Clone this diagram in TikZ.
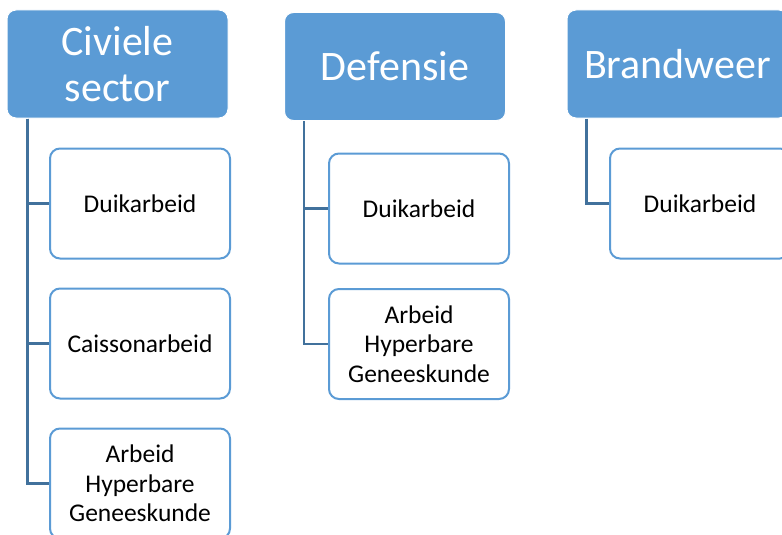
\documentclass[tikz,border=0pt]{standalone}
\usepackage{fontspec}
\setmainfont{Carlito}
\definecolor{hdblue}{HTML}{5B9BD5}
\definecolor{lnblue}{HTML}{41719C}

\begin{document}
\begin{tikzpicture}[x=1pt,y=-1pt,
  head/.style={fill=hdblue,draw=white,line width=1pt,rounded corners=9pt,
    minimum width=221pt,minimum height=108pt,inner sep=0pt,align=center,
    text=white,font=\fontsize{42}{46}\selectfont},
  sub/.style={fill=white,draw=hdblue,line width=2pt,rounded corners=10pt,
    minimum width=180pt,minimum height=110pt,inner sep=0pt,align=center,
    font=\fontsize{25.5}{29.5}\selectfont},
  conn/.style={draw=lnblue,line width=2.2pt}]
\useasboundingbox (0,0) rectangle (782,535);
\node[head] (civ) at (117.5,64) {Civiele\\sector};
\node[head] (def) at (395,66.5) {Defensie};
\node[head] (brw) at (677.5,64) {Brandweer};
\node[sub] (civA) at (140,203.5) {Duikarbeid};
\node[sub] (civB) at (140,343.5) {Caissonarbeid};
\node[sub] (civC) at (140,483.5) {Arbeid\\Hyperbare\\Geneeskunde};
\node[sub] (defA) at (419,208.5) {Duikarbeid};
\node[sub] (defB) at (419,344) {Arbeid\\Hyperbare\\Geneeskunde};
\node[sub] (brwA) at (700,203.5) {Duikarbeid};
\coordinate (civT) at ([xshift=21pt]civ.south west);
\coordinate (defT) at ([xshift=20pt]def.south west);
\coordinate (brwT) at ([xshift=20pt]brw.south west);
\draw[conn] (civT) |- (civA.west);
\draw[conn] (civT) |- (civB.west);
\draw[conn] (civT) |- (civC.west);
\draw[conn] (defT) |- (defA.west);
\draw[conn] (defT) |- (defB.west);
\draw[conn] (brwT) |- (brwA.west);
\end{tikzpicture}
\end{document}
